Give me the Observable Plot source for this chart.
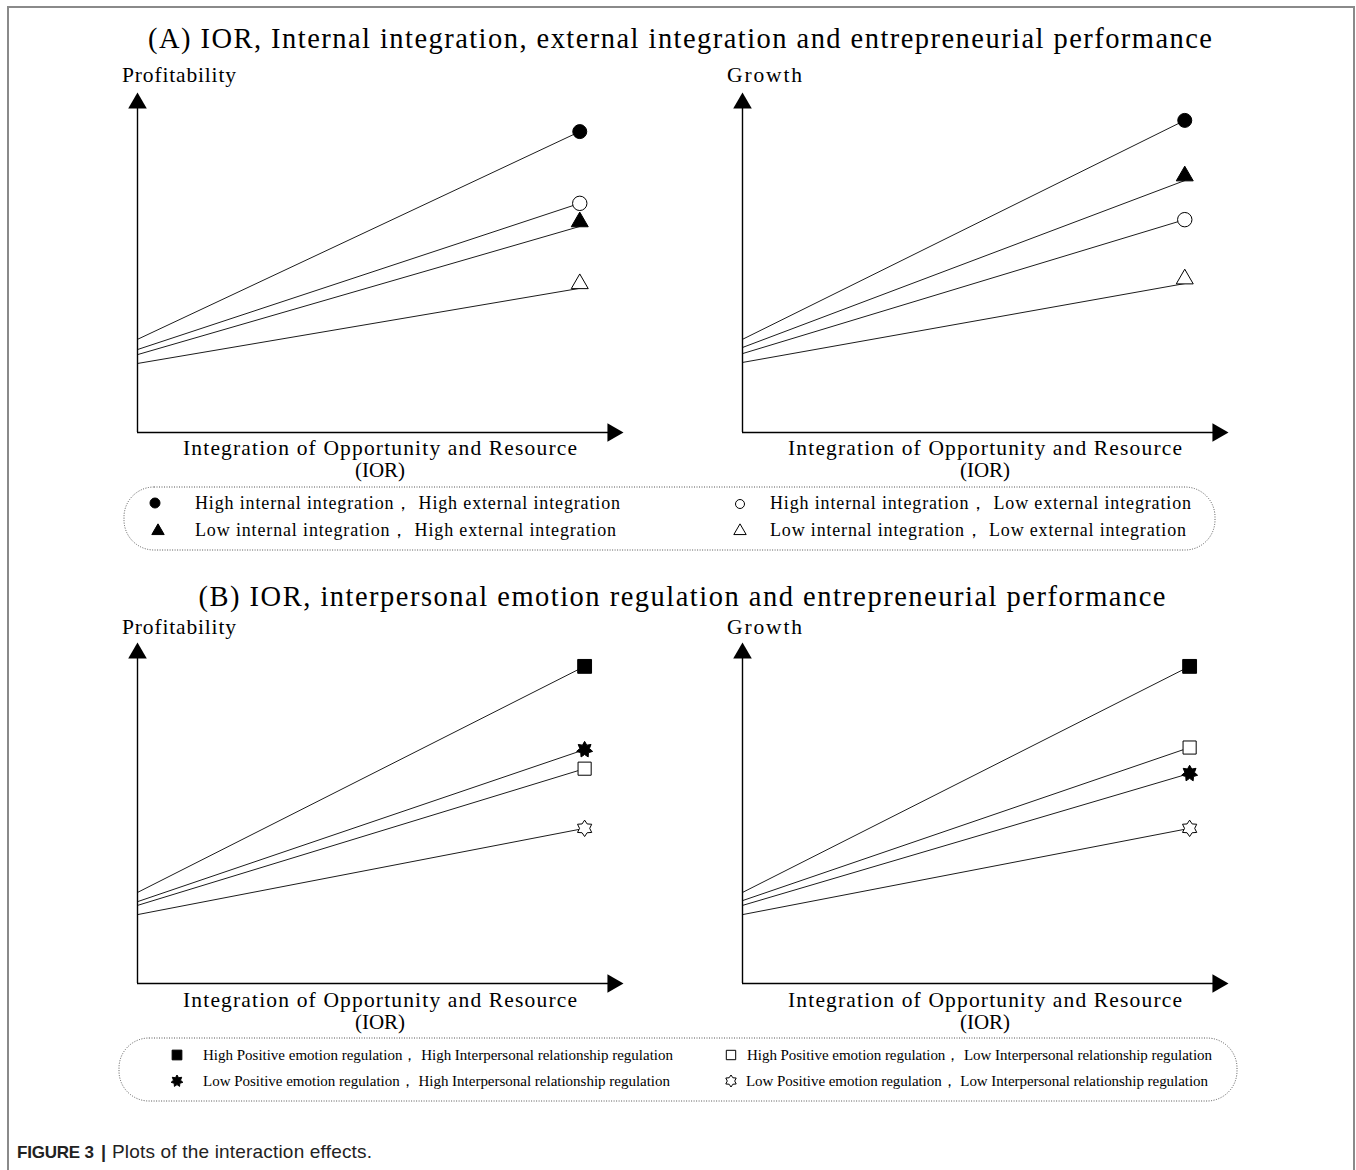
<!DOCTYPE html>
<html><head><meta charset="utf-8">
<script src="https://cdn.jsdelivr.net/npm/d3@7"></script>
<script src="https://cdn.jsdelivr.net/npm/@observablehq/plot@0.6"></script>
<style>
html,body{margin:0;padding:0;background:#fff;}
#page{position:relative;width:1356px;height:1170px;overflow:hidden;background:#fff;}
#page svg{position:absolute;}
</style></head><body><div id="page"></div>
<script>
// ---------- data ----------
const axisMax = 10;            // arrow tips of both axes
const iorA = [0, 9.1];         // low / high IOR (panel A)
const iorB = [0, 9.2];         // low / high IOR (panel B)

const groupsA = [
  "High internal integration， High external integration",
  "High internal integration， Low external integration",
  "Low internal integration， High external integration",
  "Low internal integration， Low external integration"
];
const profitA_low  = [2.74, 2.44, 2.29, 2.03];
const profitA_high = [8.85, 6.74, 6.06, 4.24];
const growthA_low  = [2.74, 2.32, 2.50, 2.06];
const growthA_high = [9.18, 6.26, 7.41, 4.38];

const groupsB = [
  "High Positive emotion regulation， High Interpersonal relationship regulation",
  "High Positive emotion regulation， Low Interpersonal relationship regulation",
  "Low Positive emotion regulation， High Interpersonal relationship regulation",
  "Low Positive emotion regulation， Low Interpersonal relationship regulation"
];
const profitB_low  = [2.67, 2.29, 2.40, 2.02];
const profitB_high = [9.30, 6.30, 6.86, 4.55];
const growthB_low  = [2.67, 2.43, 2.29, 2.02];
const growthB_high = [9.30, 6.92, 6.16, 4.55];

const titleA = "(A) IOR, Internal integration, external integration and entrepreneurial performance";
const titleB = "(B) IOR, interpersonal emotion regulation and entrepreneurial performance";
const xLabel1 = "Integration of Opportunity and Resource";
const xLabel2 = "(IOR)";

// ---------- symbols ----------
function starSymbol(n, ratio) {
  return {draw(ctx, size) {
    const R = Math.sqrt(size / Math.PI), r = R * ratio;
    for (let k = 0; k < 2 * n; k++) {
      const a = -Math.PI / 2 + k * Math.PI / n, rr = k % 2 ? r : R;
      const x = rr * Math.cos(a), y = rr * Math.sin(a);
      k ? ctx.lineTo(x, y) : ctx.moveTo(x, y);
    }
    ctx.closePath();
  }};
}
const star7 = starSymbol(7, 0.6);
const hexagram = starSymbol(6, 0.62);

const stylesA = [
  {symbol: "circle", r: 7, fill: "#000"},
  {symbol: "circle", r: 7.2, fill: "#fff"},
  {symbol: "triangle", r: 6.3, fill: "#000", dy: -4.6},
  {symbol: "triangle", r: 6.3, fill: "#fff", dy: -4.6}
];
const stylesB = [
  {symbol: "square", r: 7.8, fill: "#000"},
  {symbol: "square", r: 7.4, fill: "#fff"},
  {symbol: star7, r: 8.2, fill: "#000"},
  {symbol: hexagram, r: 8.2, fill: "#fff"}
];

const page = document.getElementById("page");

// ---------- overlay (frame, texts, legends) ----------
const ov = d3.select(page).append("svg").attr("width", 1356).attr("height", 1170).style("left", 0).style("top", 0);
ov.append("path").attr("d", "M8,1175V7H1354V1175").attr("fill", "none").attr("stroke", "#8a8a8a").attr("stroke-width", 2);

function text(x, y, s, o = {}) {
  const t = ov.append("text").attr("x", x).attr("y", y).text(s)
    .attr("font-family", o.family || "'Liberation Serif', serif")
    .attr("font-size", o.size || 20)
    .attr("font-weight", o.weight || "normal")
    .attr("fill", o.fill || "#000")
    .attr("text-anchor", o.anchor || "start");
  if (o.len) t.attr("textLength", o.len).attr("lengthAdjust", "spacing");
  return t;
}

text(680, 48, titleA, {size: 28.5, anchor: "middle", len: 1064});
text(682, 606, titleB, {size: 28.5, anchor: "middle", len: 967});

const panelsText = [
  {y: "Profitability", x0: 122, base: 82, lab: 455, lab2: 477, cx: 380},
  {y: "Growth", x0: 727, base: 82, lab: 455, lab2: 477, cx: 985},
  {y: "Profitability", x0: 122, base: 634, lab: 1007, lab2: 1029, cx: 380},
  {y: "Growth", x0: 727, base: 634, lab: 1007, lab2: 1029, cx: 985}
];
panelsText.forEach(p => {
  text(p.x0, p.base, p.y, {size: 21.5, len: p.y === "Growth" ? 75 : 114});
  text(p.cx, p.lab, xLabel1, {size: 21.5, anchor: "middle", len: 394});
  text(p.cx, p.lab2, xLabel2, {size: 21, anchor: "middle"});
});

// legend boxes
function legendBox(x1, y1, x2, y2) {
  ov.append("rect").attr("x", x1).attr("y", y1).attr("width", x2 - x1).attr("height", y2 - y1)
    .attr("rx", 30).attr("ry", 30).attr("fill", "none").attr("stroke", "#555")
    .attr("stroke-width", 1).attr("stroke-dasharray", "1,1.5");
}
function legendSym(x, y, sym, r, fill) {
  ov.append("path").attr("transform", `translate(${x},${y})`)
    .attr("d", d3.symbol(typeof sym === "string" ? d3["symbol" + sym[0].toUpperCase() + sym.slice(1)] : sym, Math.PI * r * r)())
    .attr("fill", fill).attr("stroke", "#000").attr("stroke-width", 1);
}
legendBox(124, 487, 1215, 550);
const legA = [
  {sx: 155, sy: 503, tx: 195, ty: 509, len: 425},
  {sx: 740, sy: 504, tx: 770, ty: 509, len: 421},
  {sx: 158, sy: 531, tx: 195, ty: 536, len: 421},
  {sx: 740, sy: 531, tx: 770, ty: 536, len: 416}
];
const legARadius = [5, 4.5, 4.6, 4.6];
groupsA.forEach((g, i) => {
  const L = legA[i];
  legendSym(L.sx, L.sy, stylesA[i].symbol, legARadius[i], stylesA[i].fill);
  text(L.tx, L.ty, g, {size: 18, len: L.len});
});

legendBox(119, 1038, 1237, 1101);
const legB = [
  {sx: 177, sy: 1055, tx: 203, ty: 1060, len: 470},
  {sx: 731, sy: 1055, tx: 747, ty: 1060, len: 465},
  {sx: 177, sy: 1081, tx: 203, ty: 1086, len: 467},
  {sx: 731, sy: 1081, tx: 746, ty: 1086, len: 462}
];
const legBRadius = [5.5, 5.3, 6, 6];
groupsB.forEach((g, i) => {
  const L = legB[i];
  legendSym(L.sx, L.sy, stylesB[i].symbol, legBRadius[i], stylesB[i].fill);
  text(L.tx, L.ty, g, {size: 15, len: L.len});
});

// caption
text(17, 1158, "FIGURE 3", {family: "'Liberation Sans', Arial, sans-serif", size: 17, weight: "bold", fill: "#222", len: 77});
text(101, 1158, "|", {family: "'Liberation Sans', Arial, sans-serif", size: 18, weight: "bold", fill: "#222"});
text(112, 1158, "Plots of the interaction effects.", {family: "'Liberation Sans', Arial, sans-serif", size: 19, fill: "#222", len: 260});

// ---------- panels ----------
function panel({ior, groups, low, high, styles, left, top, plotH}) {
  const rows = [];
  groups.forEach((g, i) => {
    rows.push({group: g, ior: ior[0], value: low[i]});
    rows.push({group: g, ior: ior[1], value: high[i]});
  });
  const ends = rows.filter(d => d.ior === ior[1]);
  const mT = 12, mB = 13, height = mT + plotH + mB;
  const marks = [
    Plot.line(rows, {x: "ior", y: "value", z: "group", stroke: "#1c1c1c", strokeWidth: 1}),
    Plot.ruleX([0], {y1: 0, y2: axisMax - 0.3, stroke: "#000", strokeWidth: 1.4}),
    Plot.ruleY([0], {x1: 0, x2: axisMax - 0.3, stroke: "#000", strokeWidth: 1.4}),
    Plot.dot([{x: 0, y: axisMax}], {x: "x", y: "y", symbol: "triangle", r: 6.9, fill: "#000", dy: 10.7}),
    Plot.dot([{x: axisMax, y: 0}], {x: "x", y: "y", symbol: "triangle", r: 6.9, fill: "#000", rotate: 90, dx: -10.7}),
    ...groups.map((g, i) => Plot.dot(ends.filter(d => d.group === g), {
      x: "ior", y: "value", symbol: styles[i].symbol, r: styles[i].r,
      fill: styles[i].fill, stroke: "#000", strokeWidth: 1, dy: styles[i].dy || 0
    }))
  ];
  const svg = Plot.plot({
    width: 520, height,
    marginLeft: 20, marginRight: 14, marginTop: mT, marginBottom: mB,
    x: {domain: [0, axisMax], axis: null},
    y: {domain: [0, axisMax], axis: null},
    style: {background: "transparent", overflow: "visible"},
    marks
  });
  svg.style.left = left + "px";
  svg.style.top = top + "px";
  page.appendChild(svg);
}

panel({ior: iorA, groups: groupsA, low: profitA_low, high: profitA_high, styles: stylesA, left: 117, top: 80, plotH: 340});
panel({ior: iorA, groups: groupsA, low: growthA_low, high: growthA_high, styles: stylesA, left: 722, top: 80, plotH: 340});
panel({ior: iorB, groups: groupsB, low: profitB_low, high: profitB_high, styles: stylesB, left: 117, top: 630, plotH: 341});
panel({ior: iorB, groups: groupsB, low: growthB_low, high: growthB_high, styles: stylesB, left: 722, top: 630, plotH: 341});
</script>
</body></html>
